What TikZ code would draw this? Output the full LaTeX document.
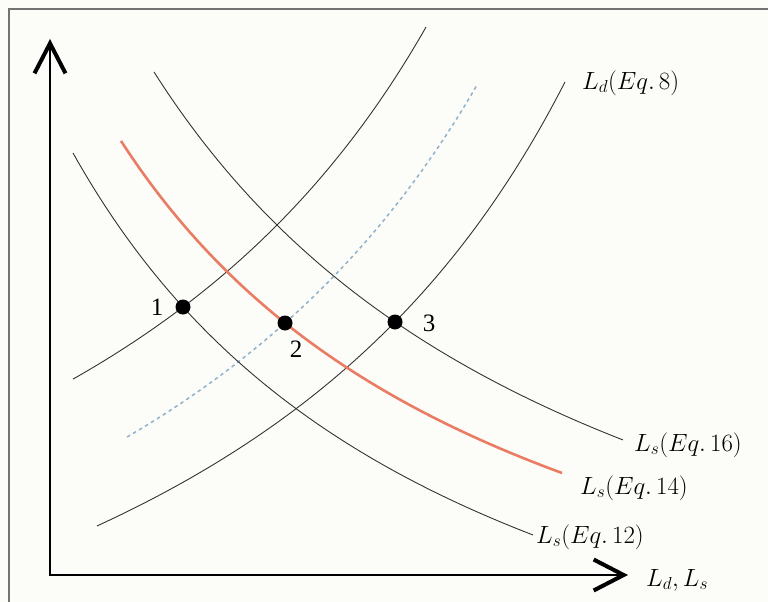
\documentclass[tikz,border=0pt]{standalone}
\usepackage[no-math]{fontspec}
\setmainfont{Liberation Serif}
\usepackage{tikz}
\usetikzlibrary{arrows.meta}
\definecolor{paper}{RGB}{252,252,249}
\definecolor{salmon}{RGB}{234,124,100}
\definecolor{dotblue}{RGB}{146,178,202}

\begin{document}
\begin{tikzpicture}[
  x=1pt, y=-1pt,
  barb/.tip={Straight Barb[length=30pt, width=31pt, line width=4pt]},
  frame/.style={draw=black!55, line width=1.5pt},
  axis/.style={line width=2pt, barb-barb},
  curve/.style={draw=black!80, line width=0.9pt, samples=90},
  supply/.style={draw=salmon, line width=2.6pt, samples=90},
  shifted/.style={draw=dotblue, line width=1.5pt, dash pattern=on 3.5pt off 3.5pt, samples=90},
  dot/.style={circle, fill=black, inner sep=0pt, minimum size=15pt},
  num/.style={font=\fontsize{25}{30}\selectfont, inner sep=0pt},
  lbl/.style={anchor=west, inner sep=0pt, font=\fontsize{26}{30}\selectfont}
]
  \fill[paper] (0,0) rectangle (768,602);
  \useasboundingbox (0,0) rectangle (768,602);
  \draw[frame] (768,9) -- (9,9) -- (9,602);

  \coordinate (origin) at (50,575);
  \coordinate (ytip)   at (50,39);
  \coordinate (xtip)   at (628,575);
  \draw[axis] (ytip) -- (origin) -- (xtip);

  % demand curves
  \draw[curve, domain=73:426] plot (\x, {843.1 - 100*(3796.9/(891.3-\x))});
  \draw[curve, domain=97:565] plot (\x, {943.9 - 100*(3796.9/(1005.5-\x))});
  \draw[shifted, domain=127:477] plot (\x, {927.3 - 100*(4106.0/(964.5-\x))});

  % supply curves
  \draw[curve, domain=73:533] plot (\x, {867.4 - 100*(2859.8/(\x+327.3))});
  \draw[supply, domain=121:562] plot (\x, {789.5 - 100*(2726.5/(\x+299.4))});
  \draw[curve, domain=154:623] plot (\x, {806.3 - 100*(3428.6/(\x+312.9))});

  \node[dot] (p1) at (183,307) {};
  \node[dot] (p2) at (285,323) {};
  \node[dot] (p3) at (395,322) {};
  \node[num] (n1) at (157,307) {1};
  \node[num] (n2) at (296,349) {2};
  \node[num] (n3) at (429,323) {3};

  \node[lbl] (ld8)  at (582,83)  {$L_d(Eq.\,8)$};
  \node[lbl] (ls16) at (634,445) {$L_s(Eq.\,16)$};
  \node[lbl] (ls14) at (580,488) {$L_s(Eq.\,14)$};
  \node[lbl] (ls12) at (536,537) {$L_s(Eq.\,12)$};
  \node[lbl] (xlab) at (646,580) {$L_d,L_s$};
\end{tikzpicture}
\end{document}
